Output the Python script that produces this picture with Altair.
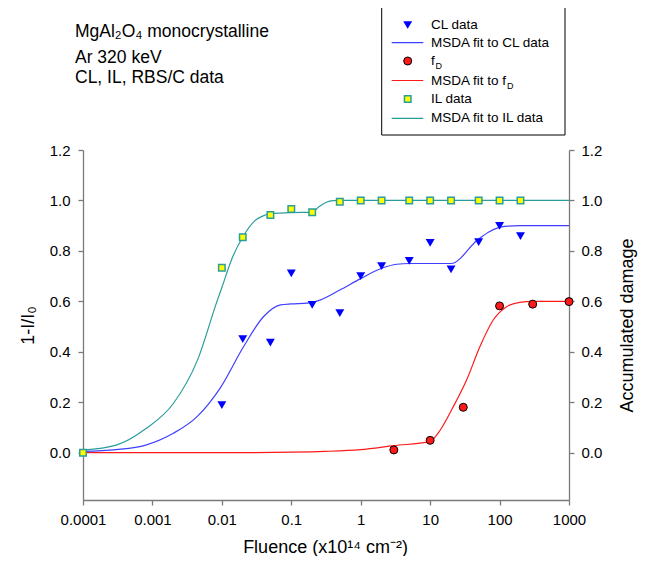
import altair as alt
import pandas as pd

# ---------------- data ----------------
# IL data (yellow squares)
il_x = [0.0001, 0.01, 0.02, 0.05, 0.1, 0.2, 0.5, 1, 2, 5, 10, 20, 50, 100, 200]
il_y = [0.0, 0.733, 0.854, 0.942, 0.966, 0.953, 0.995, 1.0, 1.0, 1.0, 1.0, 1.0, 1.0, 1.0, 1.0]

# CL data (blue triangles)
cl_x = [0.01, 0.02, 0.05, 0.1, 0.2, 0.5, 1, 2, 5, 10, 20, 50, 100, 200]
cl_y = [0.189, 0.45, 0.436, 0.711, 0.586, 0.553, 0.70, 0.74, 0.76, 0.832, 0.727, 0.835, 0.899, 0.859]

# fD data (red circles)
fd_x = [3, 10, 30, 100, 300, 1000]
fd_y = [0.011, 0.049, 0.18, 0.582, 0.589, 0.599]

# MSDA fit curves
il_fit_x = [0.0001, 0.0003, 0.0008, 0.002, 0.0045, 0.0085, 0.01, 0.014, 0.02, 0.03, 0.04, 0.05,
            0.1, 0.2, 0.25, 0.32, 0.4, 0.5, 1000]
il_fit_y = [0.01, 0.03, 0.095, 0.195, 0.37, 0.6, 0.655, 0.77, 0.855, 0.92, 0.94, 0.948,
            0.952, 0.953, 0.975, 0.993, 0.999, 1.0, 1.0]

cl_fit_x = [0.0001, 0.0003, 0.0008, 0.002, 0.0044, 0.0094, 0.0205, 0.04, 0.07, 0.1, 0.17, 0.26,
            0.5, 1, 2, 3.3, 5, 20, 48, 70, 97, 130, 200, 1000]
cl_fit_y = [0.005, 0.012, 0.03, 0.077, 0.143, 0.255, 0.42, 0.54, 0.586, 0.59, 0.593, 0.605,
            0.645, 0.69, 0.731, 0.747, 0.75, 0.75, 0.843, 0.875, 0.892, 0.898, 0.9, 0.9]

fd_fit_x = [0.0001, 0.03, 0.1, 0.3, 1, 3, 10, 14, 21.5, 33.5, 52, 81, 126, 195, 300, 1000]
fd_fit_y = [0.0, 0.0005, 0.002, 0.005, 0.012, 0.028, 0.045, 0.09, 0.182, 0.288, 0.42, 0.526,
            0.579, 0.596, 0.6, 0.6]

x_ticks = [0.0001, 0.001, 0.01, 0.1, 1, 10, 100, 1000]
y_ticks = [0.0, 0.2, 0.4, 0.6, 0.8, 1.0, 1.2]

# ---------------- styling ----------------
W, H = 486, 350
FONT = "Liberation Sans"
GRAY = "#7a7a7a"
BLUE_PT = "#0000ff"
BLUE_LN = "#3f3fff"
RED = "#ff1a1a"
TEAL = "#2a9d9a"
YELLOW = "#ffff00"

il_df = pd.DataFrame({"x": il_x, "y": il_y})
cl_df = pd.DataFrame({"x": cl_x, "y": cl_y})
fd_df = pd.DataFrame({"x": fd_x, "y": fd_y})
il_fit = pd.DataFrame({"x": il_fit_x, "y": il_fit_y})
cl_fit = pd.DataFrame({"x": cl_fit_x, "y": cl_fit_y})
fd_fit = pd.DataFrame({"x": fd_fit_x, "y": fd_fit_y})
one = pd.DataFrame({"k": [0]})

xscale = alt.Scale(type="log", domain=[0.0001, 1000], nice=False)
yscale = alt.Scale(domain=[-0.1875, 1.2], nice=False, zero=False)

common_axis = dict(
    grid=False, domainColor=GRAY, domainWidth=1.3, tickColor=GRAY, tickWidth=1.3, tickSize=5,
    labelFont=FONT, labelFontSize=15, labelColor="black", titleFont=FONT, titleFontSize=18,
    titleFontWeight="normal", titleColor="black", labelOverlap=False,
)

xaxis = alt.Axis(values=x_ticks, format="~g", title="Fluence (x10¹⁴ cm⁻²)", labelPadding=7,
                 labelFlush=False, titleX=242, titleY=52, titleBaseline="alphabetic",
                 titleAlign="center", **common_axis)
yleft = alt.Axis(orient="left", values=y_ticks, format=".1f", title="1-I/I₀", labelPadding=8,
                 titleX=-55, titleY=175, titleAngle=270, titleAlign="center",
                 titleBaseline="middle", **common_axis)
yright = alt.Axis(orient="right", values=y_ticks, format=".1f", title="Accumulated damage",
                  labelPadding=7, titleX=58, titleY=175, titleAngle=270, titleAlign="center",
                  titleBaseline="middle", **common_axis)

X = alt.X("x:Q", scale=xscale, axis=xaxis)

# ---------------- right-axis group: fD fit line ----------------
fd_line = alt.Chart(fd_fit).mark_line(color=RED, strokeWidth=1.2, interpolate="monotone").encode(
    x=X, y=alt.Y("y:Q", scale=yscale, axis=yright))

# ---------------- left-axis group ----------------
YL = alt.Y("y:Q", scale=yscale, axis=yleft)
il_line = alt.Chart(il_fit).mark_line(color=TEAL, strokeWidth=1.2, interpolate="monotone").encode(x=X, y=YL)
cl_line = alt.Chart(cl_fit).mark_line(color=BLUE_LN, strokeWidth=1.2, interpolate="monotone").encode(x=X, y=YL)
il_pts = alt.Chart(il_df).mark_square(fill=YELLOW, stroke=TEAL, strokeWidth=1.5, size=42, opacity=1).encode(x=X, y=YL)
cl_pts = alt.Chart(cl_df).mark_point(shape="triangle-down", filled=True, color=BLUE_PT, size=80, opacity=1).encode(x=X, y=YL)

def txt(s, x, y, size, align="left", baseline="alphabetic"):
    return alt.Chart(one).mark_text(text=s, font=FONT, fontSize=size, align=align, baseline=baseline,
                                    color="black").encode(x=alt.value(x), y=alt.value(y))

# annotation at top-left
ann = [
    txt("MgAl₂O₄ monocrystalline", -8, -113, 17.5),
    txt("Ar 320 keV", -8, -87, 17.5),
    txt("CL, IL, RBS/C data", -8, -67, 17.5),
]

# legend (manual)
LX0, LX1 = 298.7, 482
legend_box = alt.Chart(one).mark_rect(fill="white", stroke="black", strokeWidth=1).encode(
    x=alt.value(LX0), x2=alt.value(LX1), y=alt.value(-142.7), y2=alt.value(-15))
rows = [-125, -107.3, -89, -69.5, -51, -31.7]
SX, L0, L1, TX = 324.7, 308.7, 340.3, 348
LFS = 13.5

def lline(color, y):
    return alt.Chart(one).mark_rule(color=color, strokeWidth=1.2).encode(
        x=alt.value(L0), x2=alt.value(L1), y=alt.value(y))

legend = [
    legend_box,
    alt.Chart(one).mark_point(shape="triangle-down", filled=True, color=BLUE_PT, size=80, opacity=1).encode(
        x=alt.value(SX), y=alt.value(rows[0])),
    txt("CL data", TX, rows[0], LFS, baseline="middle"),
    lline(BLUE_LN, rows[1]),
    txt("MSDA fit to CL data", TX, rows[1], LFS, baseline="middle"),
    alt.Chart(one).mark_circle(fill=RED, stroke="black", strokeWidth=1, size=64, opacity=1).encode(
        x=alt.value(SX), y=alt.value(rows[2])),
    txt("f", TX, rows[2], LFS, baseline="middle"),
    txt("D", TX + 4.5, rows[2] + 5, 9, baseline="middle"),
    lline(RED, rows[3]),
    txt("MSDA fit to f", TX, rows[3], LFS, baseline="middle"),
    txt("D", TX + 76, rows[3] + 5, 9, baseline="middle"),
    alt.Chart(one).mark_square(fill=YELLOW, stroke=TEAL, strokeWidth=1.5, size=42, opacity=1).encode(
        x=alt.value(SX), y=alt.value(rows[4])),
    txt("IL data", TX, rows[4], LFS, baseline="middle"),
    lline(TEAL, rows[5]),
    txt("MSDA fit to IL data", TX, rows[5], LFS, baseline="middle"),
]

left_group = alt.layer(il_line, cl_line, il_pts, cl_pts, *ann, *legend)

# ---------------- fD points on top (same scale, no axis) ----------------
fd_pts = alt.Chart(fd_df).mark_circle(fill=RED, stroke="black", strokeWidth=1, size=64, opacity=1).encode(
    x=X, y=alt.Y("y:Q", scale=yscale, axis=None))

chart = alt.layer(fd_line, left_group, fd_pts).resolve_scale(y="independent").properties(
    width=W, height=H,
    autosize=alt.AutoSizeParams(type="none"),
    padding={"left": 75, "top": 142, "right": 69, "bottom": 56},
).configure_view(strokeOpacity=0)

chart.save("out.html", embed_options={"renderer": "svg", "actions": False})
